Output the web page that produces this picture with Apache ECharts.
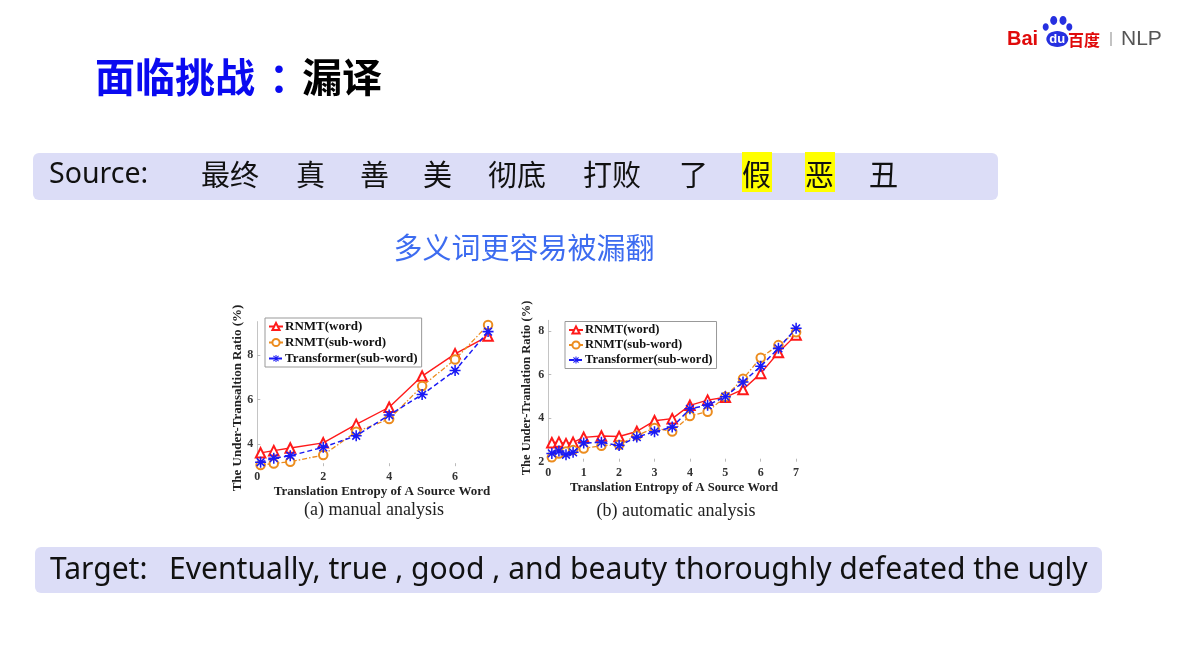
<!DOCTYPE html>
<html>
<head>
<meta charset="utf-8">
<script src="https://cdn.jsdelivr.net/npm/echarts@6/dist/echarts.min.js"></script>
<style>
html,body{margin:0;padding:0;background:#fff;}
#chart{width:1180px;height:663px;}
</style>
</head>
<body>
<div id="chart"></div>
<script>
// ---------- data ----------
const seriesNames = ['RNMT(word)', 'RNMT(sub-word)', 'Transformer(sub-word)'];

// (a) manual analysis
const xA = [0.1, 0.5, 1, 2, 3, 4, 5, 6, 7];
const rnmtWordA    = [3.6, 3.7, 3.82, 4.05, 4.88, 5.65, 7.05, 8.05, 8.85];
const rnmtSubA     = [3.05, 3.12, 3.2, 3.5, 4.55, 5.12, 6.6, 7.8, 9.35];
const transSubA    = [3.18, 3.36, 3.47, 3.85, 4.37, 5.3, 6.22, 7.3, 9.05];
const xTicksA = [0, 2, 4, 6];
const yTicksA = [4, 6, 8];

// (b) automatic analysis
const xB = [0.1, 0.3, 0.5, 0.7, 1, 1.5, 2, 2.5, 3, 3.5, 4, 4.5, 5, 5.5, 6, 6.5, 7];
const rnmtWordB = [2.87, 2.9, 2.83, 2.89, 3.12, 3.18, 3.16, 3.39, 3.88, 3.98, 4.59, 4.83, 4.96, 5.32, 6.06, 7.02, 7.83];
const rnmtSubB  = [2.2, 2.38, 2.47, 2.54, 2.61, 2.73, 2.78, 3.21, 3.55, 3.39, 4.1, 4.3, 4.99, 5.81, 6.78, 7.36, 7.95];
const transSubB = [2.38, 2.49, 2.32, 2.43, 2.86, 2.89, 2.74, 3.13, 3.38, 3.59, 4.43, 4.6, 4.99, 5.66, 6.39, 7.21, 8.13];
const xTicksB = [0, 1, 2, 3, 4, 5, 6, 7];
const yTicksB = [2, 4, 6, 8];

// slide texts
const titleBlue = '面临挑战';
const titleColon = '：';
const titleBlack = '漏译';
const subtitle = '多义词更容易被漏翻';
const sourceLabel = 'Source:';
const sourceWords = ['最终', '真', '善', '美', '彻底', '打败', '了', '假', '恶', '丑'];
const highlighted = ['假', '恶'];
const targetLabel = 'Target:';
const targetText = 'Eventually, true , good , and beauty thoroughly defeated the ugly';
const captionA = '(a) manual analysis';
const captionB = '(b) automatic analysis';
const xTitle = 'Translation Entropy of A Source Word';
const yTitleA = 'The Under-Transaltion Ratio (%)';
const yTitleB = 'The Under-Tranlation Ratio (%)';

// ---------- styling ----------
const SERIF = '"Liberation Serif", "Times New Roman", serif';
const CJK = '"Noto Sans CJK SC", "Noto Sans", sans-serif';
const SANS = '"Noto Sans", "Open Sans", sans-serif';
const ARIAL = '"Liberation Sans", Arial, sans-serif';
const RED = '#ff1a1a', ORANGE = '#ec8c1e', BLUE = '#1a1af5';
const STAR = 'path://M-1,-0.14L1,-0.14L1,0.14L-1,0.14Z M-0.14,-1L0.14,-1L0.14,1L-0.14,1Z M-0.806,-0.608L-0.608,-0.806L0.806,0.608L0.608,0.806Z M-0.608,0.806L-0.806,0.608L0.608,-0.806L0.806,-0.608Z';

const sourceX = [202, 297, 361, 424, 489, 584, 680, 743, 806, 870];

const chart = echarts.init(document.getElementById('chart'), null, {renderer: 'canvas'});

function zip(xs, ys) { return xs.map((x, i) => [x, ys[i]]); }

function mkSeries(idx, xs, ys, k) {
  const styles = [
    {symbol: 'emptyTriangle', symbolSize: 9.5, color: RED, type: 'solid', width: 1.4},
    {symbol: 'emptyCircle', symbolSize: 8.5, color: ORANGE, type: [5, 2, 1.5, 2], width: 1.3},
    {symbol: STAR, symbolSize: 11, color: BLUE, type: [5, 3], width: 1.5}
  ][k];
  return {
    type: 'line', name: seriesNames[k], xAxisIndex: idx, yAxisIndex: idx,
    data: zip(xs, ys), symbol: styles.symbol, symbolSize: styles.symbolSize,
    showAllSymbol: true, animation: false,
    itemStyle: {color: styles.color, borderWidth: 1.2},
    lineStyle: {color: styles.color, width: styles.width, type: styles.type},
    z: 2 + k
  };
}

function xAxisCfg(idx, max, ticks) {
  return {
    type: 'value', gridIndex: idx, min: 0, max: max,
    axisLine: {show: false},
    axisTick: {show: true, inside: true, length: 3, customValues: ticks, lineStyle: {color: '#bbb'}},
    axisLabel: {customValues: ticks, color: '#333', fontFamily: SERIF, fontWeight: 'bold', fontSize: 12, margin: 5},
    splitLine: {show: false}
  };
}
function yAxisCfg(idx, min, max, ticks) {
  return {
    type: 'value', gridIndex: idx, min: min, max: max,
    axisLine: {show: true, lineStyle: {color: '#c4c4c4', width: 1}},
    axisTick: {show: true, inside: true, length: 3, customValues: ticks, lineStyle: {color: '#bbb'}},
    axisLabel: {customValues: ticks, color: '#333', fontFamily: SERIF, fontWeight: 'bold', fontSize: 12, margin: 4},
    splitLine: {show: false}
  };
}
function legendCfg(left, top, fontSize, gap) {
  return {
    data: seriesNames, orient: 'vertical', left: left, top: top,
    backgroundColor: '#fff', borderColor: '#999', borderWidth: 1,
    padding: [2, 4, 2, 3], itemGap: gap, itemWidth: 14, itemHeight: 9,
    selectedMode: false,
    textStyle: {fontFamily: SERIF, fontWeight: 'bold', fontSize: fontSize, color: '#111', padding: [0, 0, 0, -3]}
  };
}

const graphics = [];
// title
graphics.push({type: 'text', x: 95, y: 77, style: {text: titleBlue, fill: '#0a0af0', font: 'bold 40px ' + CJK, verticalAlign: 'middle'}});
graphics.push({type: 'text', x: 289, y: 77, style: {text: titleColon, fill: '#0a0af0', font: 'bold 40px ' + CJK, align: 'center', verticalAlign: 'middle'}});
graphics.push({type: 'text', x: 302, y: 77, style: {text: titleBlack, fill: '#000', font: 'bold 40px ' + CJK, verticalAlign: 'middle'}});

// logo
graphics.push({type: 'text', x: 1007, y: 39.5, style: {text: 'Bai', fill: '#e00a0a', font: 'bold 20px ' + ARIAL, verticalAlign: 'middle'}});
const PAW = '#2630e0';
[[1045.7, 27, 3, 3.7], [1053.7, 20.5, 3.5, 4.4], [1063, 20.5, 3.5, 4.4], [1069.3, 27, 3, 3.7]].forEach(p => {
  graphics.push({type: 'ellipse', shape: {cx: p[0], cy: p[1], rx: p[2], ry: p[3]}, style: {fill: PAW}});
});
graphics.push({type: 'ellipse', shape: {cx: 1057.3, cy: 39, rx: 11, ry: 8}, style: {fill: PAW}});
graphics.push({type: 'text', x: 1057.3, y: 39.5, style: {text: 'du', fill: '#fff', font: 'bold 13px ' + ARIAL, align: 'center', verticalAlign: 'middle'}});
graphics.push({type: 'text', x: 1068, y: 39.5, style: {text: '百度', fill: '#e00a0a', font: 'bold 16px ' + CJK, verticalAlign: 'middle'}});
graphics.push({type: 'rect', shape: {x: 1110.5, y: 32, width: 1, height: 14}, style: {fill: '#888'}});
graphics.push({type: 'text', x: 1121, y: 39.5, style: {text: 'NLP', fill: '#555', font: '21px ' + ARIAL, verticalAlign: 'middle'}});

// source box
graphics.push({type: 'rect', shape: {x: 33, y: 153, width: 965, height: 47, r: 6}, style: {fill: '#dcddf7'}});
graphics.push({type: 'text', x: 49, y: 175, style: {text: sourceLabel, fill: '#111', font: '28.5px ' + SANS, verticalAlign: 'middle'}});
sourceWords.forEach((w, i) => {
  if (highlighted.indexOf(w) >= 0) {
    graphics.push({type: 'rect', shape: {x: sourceX[i] - 1, y: 152, width: 30, height: 40}, style: {fill: '#ffff00'}});
  }
  graphics.push({type: 'text', x: sourceX[i] - 1, y: 175, style: {text: w, fill: '#111', font: '29px ' + CJK, verticalAlign: 'middle'}});
});

// subtitle
graphics.push({type: 'text', x: 524, y: 248, style: {text: subtitle, fill: '#3d6cf0', font: '29px ' + CJK, align: 'center', verticalAlign: 'middle'}});

// target box
graphics.push({type: 'rect', shape: {x: 35, y: 547, width: 1067, height: 46, r: 6}, style: {fill: '#dcddf7'}});
graphics.push({type: 'text', x: 50, y: 570, style: {text: targetLabel, fill: '#111', font: '30px ' + SANS, verticalAlign: 'middle'}});
graphics.push({type: 'text', x: 169, y: 570, style: {text: targetText, fill: '#111', font: '30.1px ' + SANS, verticalAlign: 'middle'}});

// chart captions & axis titles
graphics.push({type: 'text', x: 374, y: 510, style: {text: captionA, fill: '#222', font: '18px ' + SERIF, align: 'center', verticalAlign: 'middle'}});
graphics.push({type: 'text', x: 676, y: 511, style: {text: captionB, fill: '#222', font: '18px ' + SERIF, align: 'center', verticalAlign: 'middle'}});
graphics.push({type: 'text', x: 382, y: 491.5, style: {text: xTitle, fill: '#222', font: 'bold 13px ' + SERIF, align: 'center', verticalAlign: 'middle'}});
graphics.push({type: 'text', x: 674, y: 488, style: {text: xTitle, fill: '#222', font: 'bold 12.5px ' + SERIF, align: 'center', verticalAlign: 'middle'}});
graphics.push({type: 'text', x: 237.5, y: 398, rotation: Math.PI / 2, style: {text: yTitleA, fill: '#222', font: 'bold 13px ' + SERIF, align: 'center', verticalAlign: 'middle'}});
graphics.push({type: 'text', x: 527, y: 388, rotation: Math.PI / 2, style: {text: yTitleB, fill: '#222', font: 'bold 12.5px ' + SERIF, align: 'center', verticalAlign: 'middle'}});

const option = {
  backgroundColor: '#fff',
  animation: false,
  grid: [
    {left: 257.3, top: 321.6, width: 239, height: 144.6, containLabel: false},
    {left: 548.3, top: 320.3, width: 254.9, height: 141.4, containLabel: false}
  ],
  xAxis: [xAxisCfg(0, 7.25, xTicksA), xAxisCfg(1, 7.2, xTicksB)],
  yAxis: [yAxisCfg(0, 3, 9.5, yTicksA), yAxisCfg(1, 2, 8.5, yTicksB)],
  legend: [legendCfg(265, 318, 13, 3), legendCfg(565, 321.5, 12.5, 2)],
  series: [
    mkSeries(0, xA, rnmtWordA, 0), mkSeries(0, xA, rnmtSubA, 1), mkSeries(0, xA, transSubA, 2),
    mkSeries(1, xB, rnmtWordB, 0), mkSeries(1, xB, rnmtSubB, 1), mkSeries(1, xB, transSubB, 2)
  ],
  graphic: {elements: graphics}
};
chart.setOption(option);
</script>
</body>
</html>
